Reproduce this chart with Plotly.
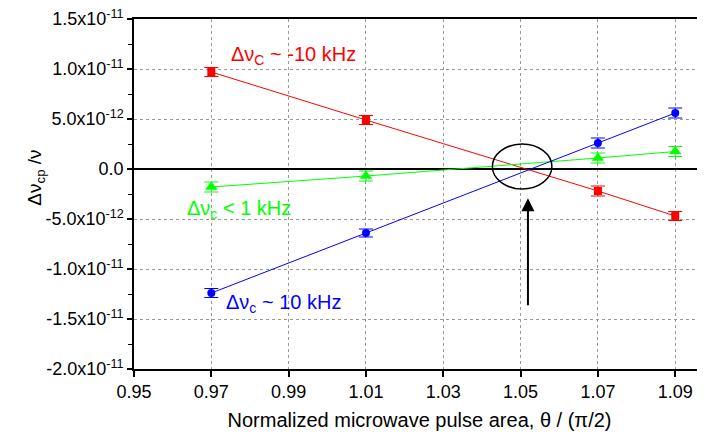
import plotly.graph_objects as go

x = [0.97, 1.01, 1.07, 1.09]
red_y = [9.7e-12, 4.9e-12, -2.2e-12, -4.7e-12]
red_err = [0.45e-12, 0.45e-12, 0.5e-12, 0.45e-12]
green_y = [-1.8e-12, -0.7e-12, 1.1e-12, 1.75e-12]
green_err = [0.5e-12, 0.5e-12, 0.5e-12, 0.5e-12]
blue_y = [-12.4e-12, -6.4e-12, 2.6e-12, 5.6e-12]
blue_err = [0.45e-12, 0.4e-12, 0.5e-12, 0.5e-12]

ytick_vals = [1.5e-11, 1.0e-11, 5.0e-12, 0.0, -5.0e-12, -1.0e-11, -1.5e-11, -2.0e-11]
ytick_text = ["1.5x10<sup>-11</sup>", "1.0x10<sup>-11</sup>", "5.0x10<sup>-12</sup>", "0.0",
              "-5.0x10<sup>-12</sup>", "-1.0x10<sup>-11</sup>", "-1.5x10<sup>-11</sup>",
              "-2.0x10<sup>-11</sup>"]
xtick_vals = [0.95, 0.97, 0.99, 1.01, 1.03, 1.05, 1.07, 1.09]
xtick_text = ["0.95", "0.97", "0.99", "1.01", "1.03", "1.05", "1.07", "1.09"]

FONT = "Liberation Sans, Arial, sans-serif"

fig = go.Figure()

def add_series(y, err, color, symbol, size):
    fig.add_trace(go.Scatter(
        x=x, y=y, mode="lines+markers",
        line=dict(color=color, width=1),
        marker=dict(color=color, symbol=symbol, size=size, line=dict(width=0)),
        error_y=dict(type="data", array=err, visible=True, color=color, thickness=1, width=7),
        showlegend=False,
    ))

add_series(red_y, red_err, "#FF0000", "square", 8)
add_series(green_y, green_err, "#00FF00", "triangle-up", 11)
add_series(blue_y, blue_err, "#0000FF", "circle", 8)

fig.add_shape(type="circle", xref="x", yref="y",
              x0=1.0427, x1=1.0581, y0=-2.0e-12, y1=2.5e-12,
              line=dict(color="black", width=1.5))

fig.add_annotation(x=1.0519, y=-2.93e-12, ax=1.0519, ay=-13.77e-12,
                   xref="x", yref="y", axref="x", ayref="y",
                   text="", showarrow=True, arrowhead=2, arrowsize=1.3,
                   arrowwidth=2, arrowcolor="black")

fig.add_annotation(x=0.9746, y=1.14e-11, xref="x", yref="y",
                   text="Δν<sub>C</sub> ~ -10 kHz", showarrow=False,
                   xanchor="left", yanchor="middle",
                   font=dict(family=FONT, size=20, color="#FF0000"))
fig.add_annotation(x=0.9633, y=-4.0e-12, xref="x", yref="y",
                   text="Δν<sub>c</sub> < 1 kHz", showarrow=False,
                   xanchor="left", yanchor="middle",
                   font=dict(family=FONT, size=20, color="#00FF00"))
fig.add_annotation(x=0.9734, y=-13.4e-12, xref="x", yref="y",
                   text="Δν<sub>c</sub> ~ 10 kHz", showarrow=False,
                   xanchor="left", yanchor="middle",
                   font=dict(family=FONT, size=20, color="#0000FF"))

fig.add_annotation(x=-0.172, y=0.546, xref="paper", yref="paper",
                   text="Δν<sub>cp</sub> /ν", showarrow=False, textangle=-90,
                   xanchor="center", yanchor="middle",
                   font=dict(family=FONT, size=19, color="black"))

fig.update_layout(
    width=697, height=431,
    margin=dict(l=126, r=0, t=11, b=70),
    paper_bgcolor="white", plot_bgcolor="white",
    font=dict(family=FONT, size=18, color="black"),
    xaxis=dict(
        range=[0.95, 1.0977], tickmode="array", tickvals=xtick_vals, ticktext=xtick_text,
        showline=True, linecolor="black", linewidth=1.5, mirror=True,
        ticks="outside", ticklen=6, tickwidth=1.5, tickcolor="black",
        showgrid=True, gridcolor="#999999", griddash="dot", gridwidth=1,
        zeroline=False,
        title=dict(text="Normalized microwave pulse area, θ / (π/2)",
                   font=dict(family=FONT, size=20), standoff=12),
        tickfont=dict(family=FONT, size=18),
    ),
    yaxis=dict(
        range=[-2.0e-11, 1.5e-11], tickmode="array", tickvals=ytick_vals, ticktext=ytick_text,
        showline=True, linecolor="black", linewidth=1.5, mirror=False,
        ticks="outside", ticklen=5, tickwidth=1.5, tickcolor="black",
        ticklabeloverflow="allow",
        minor=dict(dtick=2.5e-12, tick0=0, ticks="outside", ticklen=4, tickwidth=1,
                   tickcolor="black", showgrid=False),
        showgrid=True, gridcolor="#999999", griddash="dot", gridwidth=1,
        zeroline=True, zerolinecolor="black", zerolinewidth=1.5,
        tickfont=dict(family=FONT, size=18),
    ),
)

fig.write_html("out.html")
